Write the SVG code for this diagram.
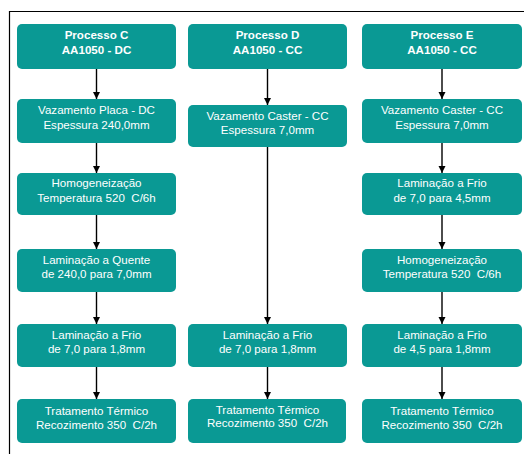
<svg xmlns="http://www.w3.org/2000/svg" width="524" height="454" viewBox="0 0 524 454">
<style>
.box{fill:#0a9994;}
.t{fill:#ffffff;font-family:"Liberation Sans",Arial,sans-serif;font-size:10px;text-anchor:middle;white-space:pre;}
.b{font-weight:bold;}
.c{stroke:#000;stroke-width:1.4;fill:none;marker-end:url(#ah);}
.frame{stroke:#000;stroke-width:1.2;fill:none;}
</style>
<defs>
<marker id="ah" markerWidth="7" markerHeight="8" refX="7" refY="3.5" orient="auto" markerUnits="userSpaceOnUse" viewBox="0 0 7 7">
<path d="M0,0 L7,3.5 L0,7 Z" fill="#000"/>
</marker>
</defs>
<rect width="524" height="454" fill="#fff"/>
<path class="frame" d="M9.5,454 V11.5 H524"/>

<g id="connectors">
<line class="c" x1="96.5" y1="69" x2="96.5" y2="99"/>
<line class="c" x1="96.5" y1="143" x2="96.5" y2="173"/>
<line class="c" x1="96.5" y1="215" x2="96.5" y2="249"/>
<line class="c" x1="96.5" y1="292" x2="96.5" y2="324"/>
<line class="c" x1="96.5" y1="367" x2="96.5" y2="399"/>
<line class="c" x1="267.5" y1="69" x2="267.5" y2="105"/>
<line class="c" x1="267.5" y1="147" x2="267.5" y2="324"/>
<line class="c" x1="267.5" y1="367" x2="267.5" y2="399"/>
<line class="c" x1="442" y1="69" x2="442" y2="99"/>
<line class="c" x1="442" y1="143" x2="442" y2="173"/>
<line class="c" x1="442" y1="215" x2="442" y2="249"/>
<line class="c" x1="442" y1="292" x2="442" y2="324"/>
<line class="c" x1="442" y1="367" x2="442" y2="399"/>
</g>

<g id="C1"><rect class="box" x="17" y="24" width="159" height="45" rx="5"/>
<text class="t b" transform="translate(96.5 39.3) scale(1.16 1)">Processo C</text>
<text class="t b" transform="translate(96.5 53.7) scale(1.16 1)">AA1050 - DC</text></g>
<g id="C2"><rect class="box" x="17" y="99" width="159" height="44" rx="5"/>
<text class="t" transform="translate(96.5 114.3) scale(1.16 1)">Vazamento Placa - DC</text>
<text class="t" transform="translate(96.5 128.5) scale(1.16 1)">Espessura 240,0mm</text></g>
<g id="C3"><rect class="box" x="17" y="173" width="159" height="42" rx="5"/>
<text class="t" transform="translate(96.5 186.8) scale(1.16 1)">Homogeneização</text>
<text class="t" transform="translate(96.5 201.5) scale(1.16 1)">Temperatura 520  C/6h</text></g>
<g id="C4"><rect class="box" x="17" y="249" width="159" height="43" rx="5"/>
<text class="t" transform="translate(96.5 264) scale(1.16 1)">Laminação a Quente</text>
<text class="t" transform="translate(96.5 278.4) scale(1.16 1)">de 240,0 para 7,0mm</text></g>
<g id="C5"><rect class="box" x="17" y="324" width="159" height="43" rx="5"/>
<text class="t" transform="translate(96.5 339) scale(1.16 1)">Laminação a Frio</text>
<text class="t" transform="translate(96.5 353.4) scale(1.16 1)">de 7,0 para 1,8mm</text></g>
<g id="C6"><rect class="box" x="17" y="399" width="159" height="44" rx="5"/>
<text class="t" transform="translate(96.5 415) scale(1.16 1)">Tratamento Térmico</text>
<text class="t" transform="translate(96.5 429.3) scale(1.16 1)">Recozimento 350  C/2h</text></g>

<g id="D1"><rect class="box" x="188" y="24" width="159" height="45" rx="5"/>
<text class="t b" transform="translate(267.5 39.3) scale(1.16 1)">Processo D</text>
<text class="t b" transform="translate(267.5 53.7) scale(1.16 1)">AA1050 - CC</text></g>
<g id="D2"><rect class="box" x="188" y="105" width="159" height="42" rx="5"/>
<text class="t" transform="translate(267.5 120.3) scale(1.16 1)">Vazamento Caster - CC</text>
<text class="t" transform="translate(267.5 134.3) scale(1.16 1)">Espessura 7,0mm</text></g>
<g id="D5"><rect class="box" x="188" y="324" width="159" height="43" rx="5"/>
<text class="t" transform="translate(267.5 339) scale(1.16 1)">Laminação a Frio</text>
<text class="t" transform="translate(267.5 353.4) scale(1.16 1)">de 7,0 para 1,8mm</text></g>
<g id="D6"><rect class="box" x="188" y="399" width="158" height="44" rx="5"/>
<text class="t" transform="translate(267.5 413.8) scale(1.16 1)">Tratamento Térmico</text>
<text class="t" transform="translate(267.5 427) scale(1.16 1)">Recozimento 350  C/2h</text></g>

<g id="E1"><rect class="box" x="362" y="24" width="160" height="45" rx="5"/>
<text class="t b" transform="translate(442 39.3) scale(1.16 1)">Processo E</text>
<text class="t b" transform="translate(442 53.7) scale(1.16 1)">AA1050 - CC</text></g>
<g id="E2"><rect class="box" x="362" y="99" width="160" height="44" rx="5"/>
<text class="t" transform="translate(442 114.3) scale(1.16 1)">Vazamento Caster - CC</text>
<text class="t" transform="translate(442 128.5) scale(1.16 1)">Espessura 7,0mm</text></g>
<g id="E3"><rect class="box" x="362" y="173" width="160" height="42" rx="5"/>
<text class="t" transform="translate(442 186.8) scale(1.16 1)">Laminação a Frio</text>
<text class="t" transform="translate(442 201.5) scale(1.16 1)">de 7,0 para 4,5mm</text></g>
<g id="E4"><rect class="box" x="362" y="249" width="160" height="43" rx="5"/>
<text class="t" transform="translate(442 264) scale(1.16 1)">Homogeneização</text>
<text class="t" transform="translate(442 278.4) scale(1.16 1)">Temperatura 520  C/6h</text></g>
<g id="E5"><rect class="box" x="362" y="324" width="160" height="43" rx="5"/>
<text class="t" transform="translate(442 339) scale(1.16 1)">Laminação a Frio</text>
<text class="t" transform="translate(442 353.4) scale(1.16 1)">de 4,5 para 1,8mm</text></g>
<g id="E6"><rect class="box" x="362" y="399" width="160" height="44" rx="5"/>
<text class="t" transform="translate(442 415) scale(1.16 1)">Tratamento Térmico</text>
<text class="t" transform="translate(442 429.3) scale(1.16 1)">Recozimento 350  C/2h</text></g>
</svg>
